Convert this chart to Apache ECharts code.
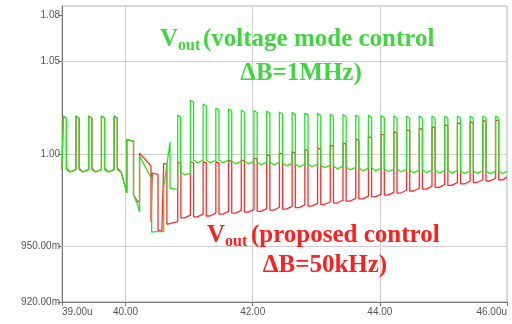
<!DOCTYPE html>
<html><head><meta charset="utf-8">
<script src="https://cdn.jsdelivr.net/npm/echarts@6/dist/echarts.min.js"></script>
<style>html,body{margin:0;padding:0;background:#fff}#c{width:512px;height:324px}</style>
</head><body><div id="c"></div>
<script>
// Axis ticks / labels
const xTickValues = [39, 40, 42, 44, 46];
const xTickLabels = ['39.00u', '40.00', '42.00', '44.00', '46.00u'];
const yTickValues = [0.92, 0.95, 1.00, 1.05, 1.075];
const yTickLabels = ['920.00m', '950.00m', '1.00', '1.05', '1.08'];
const xGridValues = [40, 42, 44];
const yGridValues = [0.95, 1.00, 1.05];

// Switching-cycle rising-edge times (us), one per cycle
const riseTimes = [39.02,39.22,39.42,39.62,39.82,40.02,40.22,40.42,40.60,40.82,41.02,41.22,41.42,41.62,41.82,42.02,42.22,42.42,42.62,42.82,43.02,43.22,43.42,43.62,43.82,44.02,44.22,44.42,44.62,44.82,45.02,45.22,45.42,45.62,45.82];

// Green: voltage mode control (per cycle, V)
const greenStart = 0.9915;
const greenOn = [0.05,0.05,0.05,0.05,0.05,0.105,0.19,0,0.10,0.045,0.05,0.05,0.05,0.05,0.05,0.05,0.05,0.05,0.05,0.05,0.05,0.05,0.05,0.05,0.05,0.05,0.05,0.05,0.05,0.05,0.05,0.05,0.05,0.05,0.05];
const greenTop = [1.0205,1.0205,1.0205,1.0205,1.0205,1.0078,0.9990,0.9580,0.9820,1.0211,1.0292,1.0270,1.0249,1.0243,1.0238,1.0235,1.0232,1.0227,1.0225,1.0222,1.0220,1.0216,1.0213,1.0211,1.0211,1.0208,1.0205,1.0205,1.0205,1.0205,1.0205,1.0205,1.0205,1.0205,1.0205];
const greenTopEnd = [1.0193,1.0193,1.0193,1.0193,1.0193,1.0070,0.9865,0.9580,1.0065,1.0200,1.0280,1.0258,1.0237,1.0231,1.0226,1.0223,1.0220,1.0215,1.0213,1.0210,1.0208,1.0204,1.0201,1.0199,1.0199,1.0196,1.0193,1.0193,1.0193,1.0193,1.0193,1.0193,1.0193,1.0193,1.0193];
const greenBot = [0.9915,0.9915,0.9915,0.9915,0.9915,0.9778,0.9578,0.9580,0.9816,0.9900,0.9968,0.9968,0.9968,0.9962,0.9962,0.9957,0.9957,0.9951,0.9946,0.9946,0.9941,0.9935,0.9930,0.9924,0.9924,0.9919,0.9919,0.9914,0.9914,0.9912,0.9912,0.9910,0.9910,0.9908,0.9908];
const greenBotMid = [0.9903,0.9903,0.9903,0.9903,0.9903,0.9730,0.9578,0.9580,0.9810,0.9888,0.9953,0.9953,0.9953,0.9947,0.9947,0.9942,0.9942,0.9936,0.9931,0.9931,0.9926,0.9920,0.9915,0.9909,0.9909,0.9904,0.9904,0.9899,0.9899,0.9897,0.9897,0.9895,0.9895,0.9893,0.9893];
const greenBotEnd = [0.9915,0.9915,0.9915,0.9915,0.9790,0.9686,0.9578,0.9580,0.9812,0.9895,0.9966,0.9966,0.9966,0.9960,0.9960,0.9955,0.9955,0.9949,0.9944,0.9944,0.9939,0.9933,0.9928,0.9922,0.9922,0.9917,0.9917,0.9912,0.9912,0.9910,0.9910,0.9908,0.9908,0.9906,0.9906];

// Red: proposed control (per cycle, V)
const redStart = 0.9915;
const redOn = [0.05,0.05,0.05,0.05,0.05,0.105,0.18,0.09,0.05,0.05,0.05,0.05,0.05,0.05,0.05,0.05,0.05,0.05,0.05,0.05,0.05,0.05,0.05,0.05,0.05,0.05,0.05,0.05,0.05,0.05,0.05,0.05,0.05,0.05,0.05];
const redTop = [1.0205,1.0205,1.0205,1.0205,1.0205,1.0078,1.0005,0.9897,0.9950,0.9955,0.9957,0.9957,0.9957,0.9965,0.9968,0.9978,0.9995,1.0005,1.0011,1.0024,1.0032,1.0046,1.0059,1.0081,1.0092,1.0108,1.0119,1.0130,1.0138,1.0146,1.0157,1.0168,1.0173,1.0181,1.0184];
const redTopEnd = [1.0193,1.0193,1.0193,1.0193,1.0193,1.0070,0.9935,0.9890,0.9945,0.9950,0.9952,0.9952,0.9952,0.9960,0.9963,0.9973,0.9990,1.0000,1.0006,1.0019,1.0027,1.0041,1.0054,1.0076,1.0087,1.0103,1.0114,1.0125,1.0133,1.0141,1.0152,1.0163,1.0168,1.0176,1.0179];
const redBot = [0.9923,0.9923,0.9923,0.9923,0.9923,0.9778,0.9632,0.9590,0.9620,0.9655,0.9660,0.9665,0.9675,0.9680,0.9686,0.9690,0.9697,0.9702,0.9710,0.9718,0.9727,0.9735,0.9745,0.9757,0.9768,0.9778,0.9789,0.9800,0.9810,0.9820,0.9830,0.9838,0.9846,0.9854,0.9860];
const redBotMid = [0.9903,0.9903,0.9903,0.9903,0.9903,0.9745,0.9630,0.9580,0.9625,0.9655,0.9660,0.9665,0.9675,0.9680,0.9686,0.9690,0.9697,0.9702,0.9710,0.9718,0.9727,0.9735,0.9745,0.9757,0.9768,0.9778,0.9789,0.9800,0.9810,0.9820,0.9830,0.9838,0.9846,0.9854,0.9860];
const redBotEnd = [0.9915,0.9915,0.9915,0.9915,0.9790,0.9740,0.9630,0.9580,0.9635,0.9670,0.9675,0.9680,0.9690,0.9695,0.9701,0.9705,0.9712,0.9717,0.9725,0.9733,0.9742,0.9750,0.9760,0.9772,0.9783,0.9793,0.9804,0.9815,0.9825,0.9835,0.9845,0.9853,0.9861,0.9869,0.9875];

const xMin = 39, xMax = 46, yMin = 0.92, yMax = 1.08;

function buildWave(startV, on, top, topEnd, bot, botMid, botEnd) {
  const pts = [[xMin, startV]];
  let prev = startV;
  for (let k = 0; k < riseTimes.length; k++) {
    const r = riseTimes[k];
    const f = r + on[k];
    const next = k + 1 < riseTimes.length ? riseTimes[k + 1] : xMax;
    pts.push([r, prev], [r, top[k]], [f, topEnd[k]], [f, bot[k]]);
    pts.push([Math.min(f + 0.06, next - 0.005), botMid[k]]);
    prev = botEnd[k];
  }
  pts.push([xMax, prev]);
  return pts;
}

function lookup(vals, labels, v) {
  for (let i = 0; i < vals.length; i++) if (Math.abs(vals[i] - v) < 1e-6) return labels[i];
  return '';
}

const chart = echarts.init(document.getElementById('c'), null, {renderer: 'canvas'});
const labelFont = {color: '#555', fontSize: 10, fontFamily: 'Liberation Sans, Arial, sans-serif'};
const gridLineData = xGridValues.map(v => ({xAxis: v})).concat(yGridValues.map(v => ({yAxis: v})));
const serif = '"Liberation Serif", serif';

chart.setOption({
  animation: false,
  backgroundColor: '#fff',
  grid: {left: 62, right: 5, top: 6, bottom: 22, show: true, borderColor: '#b0b0b0', borderWidth: 1},
  xAxis: {
    type: 'value', min: xMin, max: xMax,
    axisLine: {show: true, onZero: false, lineStyle: {color: '#777', width: 1}},
    axisTick: {show: true, customValues: xTickValues, length: 4, lineStyle: {color: '#777'}},
    axisLabel: Object.assign({customValues: xTickValues, margin: 5, alignMinLabel: 'left', alignMaxLabel: 'right',
      formatter: v => lookup(xTickValues, xTickLabels, v)}, labelFont),
    splitLine: {show: false}
  },
  yAxis: {
    type: 'value', min: yMin, max: yMax,
    axisLine: {show: true, onZero: false, lineStyle: {color: '#777', width: 1}},
    axisTick: {show: true, customValues: yTickValues, length: 4, lineStyle: {color: '#777'}},
    axisLabel: Object.assign({customValues: yTickValues, margin: 2,
      formatter: v => lookup(yTickValues, yTickLabels, v)}, labelFont),
    splitLine: {show: false}
  },
  series: [
    {
      name: 'Vout proposed', type: 'line', data: buildWave(redStart, redOn, redTop, redTopEnd, redBot, redBotMid, redBotEnd),
      showSymbol: false, symbol: 'none', z: 2,
      lineStyle: {color: '#ff2b2b', width: 1.3},
      markLine: {silent: true, z: 1, symbol: 'none', label: {show: false},
        lineStyle: {color: '#cfcfcf', width: 1, type: 'solid'}, data: gridLineData}
    },
    {
      name: 'Vout voltage mode', type: 'line', data: buildWave(greenStart, greenOn, greenTop, greenTopEnd, greenBot, greenBotMid, greenBotEnd),
      showSymbol: false, symbol: 'none', z: 3,
      lineStyle: {color: '#22e622', width: 1.3}
    }
  ],
  graphic: [
    {type: 'text', x: 160, y: 40, z: 10, style: {text: 'V', fill: '#3ed83e', font: 'bold 25px ' + serif, textVerticalAlign: 'middle', verticalAlign: 'middle'}},
    {type: 'text', x: 178, y: 46, z: 10, style: {text: 'out', fill: '#3ed83e', font: 'bold 16px ' + serif, textVerticalAlign: 'middle', verticalAlign: 'middle'}},
    {type: 'text', x: 203, y: 40, z: 10, style: {text: '(voltage mode control', fill: '#3ed83e', font: 'bold 25px ' + serif, textVerticalAlign: 'middle', verticalAlign: 'middle'}},
    {type: 'text', x: 301, y: 74, z: 10, style: {text: 'ΔB=1MHz)', fill: '#3ed83e', font: 'bold 25px ' + serif, textAlign: 'center', align: 'center', textVerticalAlign: 'middle', verticalAlign: 'middle'}},
    {type: 'text', x: 207, y: 236, z: 10, style: {text: 'V', fill: '#ff1e1e', font: 'bold 25px ' + serif, textVerticalAlign: 'middle', verticalAlign: 'middle'}},
    {type: 'text', x: 225, y: 242, z: 10, style: {text: 'out', fill: '#ff1e1e', font: 'bold 16px ' + serif, textVerticalAlign: 'middle', verticalAlign: 'middle'}},
    {type: 'text', x: 251, y: 236, z: 10, style: {text: '(proposed control', fill: '#ff1e1e', font: 'bold 25px ' + serif, textVerticalAlign: 'middle', verticalAlign: 'middle'}},
    {type: 'text', x: 325, y: 266, z: 10, style: {text: 'ΔB=50kHz)', fill: '#ff1e1e', font: 'bold 25px ' + serif, textAlign: 'center', align: 'center', textVerticalAlign: 'middle', verticalAlign: 'middle'}}
  ]
});
</script>
</body></html>
